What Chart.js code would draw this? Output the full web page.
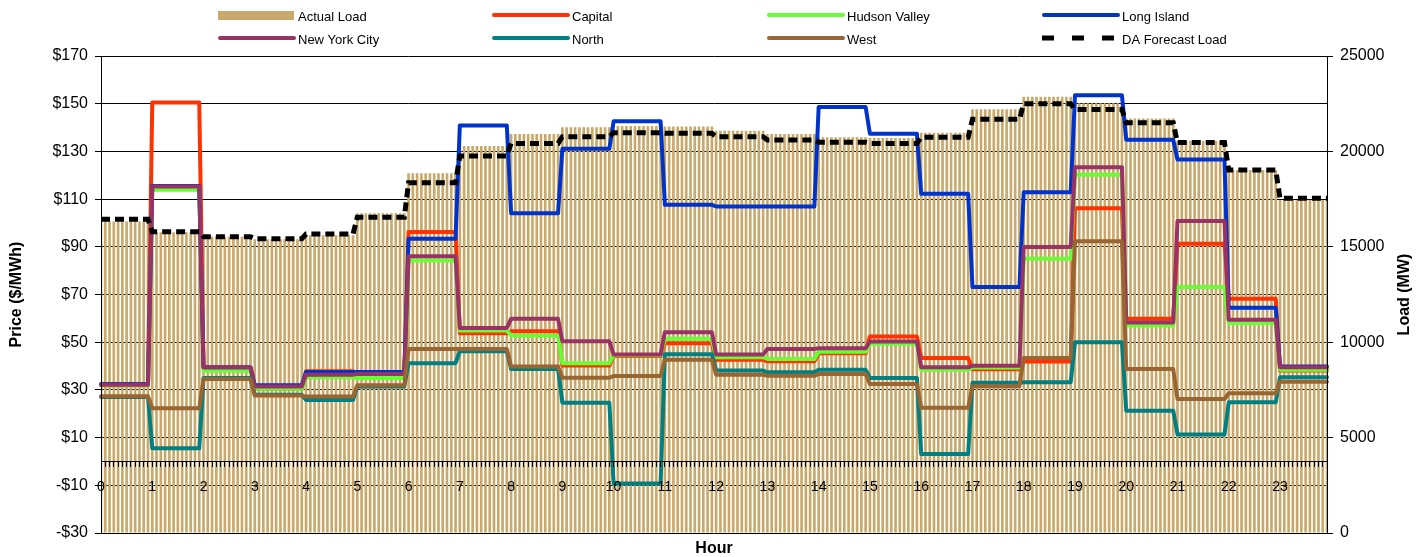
<!DOCTYPE html>
<html>
<head>
<meta charset="utf-8">
<script src="https://cdn.jsdelivr.net/npm/chart.js@4.4.1/dist/chart.umd.min.js"></script>
<style>
  html,body{margin:0;padding:0;background:#fff}
  #wrap{width:1417px;height:557px}
</style>
</head>
<body>
<div id="wrap"><canvas id="chart" width="1417" height="557"></canvas></div>
<script>
// ── DATA ──
// hourly zonal prices ($/MWh) and loads (MW)
const hours = [0,1,2,3,4,5,6,7,8,9,10,11,12,13,14,15,16,17,18,19,20,21,22,23];
const steps = ['00','05','10','15','20','25','30','35','40','45','50','55'];   // 5-min intervals

const actualLoad = [16320,15760,15530,15400,15600,16755,18850,20280,20910,21260,21330,21300,21085,20910,20740,20700,20980,22205,22870,22520,21730,20545,19025,17450];
const daForecast = [16440,15790,15530,15425,15670,16546,18360,19760,20420,20770,20980,20950,20770,20600,20480,20420,20740,21680,22500,22200,21500,20460,19025,17540];
const capital    = [32,150.5,39,30.5,37.8,35,96.2,53.8,54.6,40.2,44.2,49.6,42.6,42,45.4,52.4,43.4,38.7,41.9,106.2,59.8,91.3,68.2,38.1];
const hudson     = [32,113.9,38,30.5,35.3,35,84.3,54.9,52.8,41.2,44.5,51.4,43.7,43,46,49.4,38.4,39.4,85,120.2,57,73.1,58,38.5];
const longIsland = [32.5,115.5,39.5,32,37.5,37.5,93.4,140.9,104.1,131.1,142.6,107.6,106.9,106.9,148.6,137.4,112.2,73.1,112.9,153.5,134.9,126.6,64.4,39.8];
const nyc        = [32.2,115.3,39.5,31.4,36.4,36.7,86,56,59.8,50.4,44.8,54.2,44.8,47.2,47.5,50.3,39.5,40.1,89.9,123.4,58.3,100.8,59.4,39.5];
const north      = [27,5.5,35,28,25.8,31.4,41.2,46.2,38.8,24.6,-9.2,44.9,38.1,37.4,38.4,35,3.1,33,33.2,50,21.3,11.3,24.8,35.3];
const west       = [27.3,22.3,34.6,27.6,27.2,32,47.2,47.2,39.8,35.1,35.8,42.6,36.4,35.9,36.7,32.5,22.5,31.5,43.4,92.3,38.8,26.2,28.6,33.4];

// ── HELPERS ──
const FONT = 'Arial, "Liberation Sans", sans-serif';
Chart.defaults.font.family = FONT;
Chart.defaults.color = '#000';

const labels = hours.flatMap(h => steps.map(m => h+':'+m));
const perStep = arr => arr.flatMap(v => steps.map(() => v));   // hourly value held over its 12 intervals

const lineDs = (label,data,color,order) => ({
  type:'line', label, data:perStep(data), borderColor:color, backgroundColor:color,
  borderWidth:4, pointRadius:0, tension:0, borderJoinStyle:'round', borderCapStyle:'round',
  xAxisID:'x', yAxisID:'y', order
});

// legend in a fixed 4-column grid, like the original
const legendGrid = {
  id:'legendGrid',
  afterDraw(chart) {
    const ctx=chart.ctx, cols=[218,492,767,1042], rows=[15,38];
    chart.data.datasets.forEach((ds,i) => {
      const x=cols[i%4], y=rows[Math.floor(i/4)];
      ctx.save();
      if (ds.type==='bar') { ctx.fillStyle=ds.backgroundColor; ctx.fillRect(x,y-4,76,9); }
      else {
        ctx.beginPath(); ctx.strokeStyle=ds.borderColor;
        if (ds.borderDash) { ctx.setLineDash([12,18]); ctx.lineWidth=5; ctx.lineCap='butt'; ctx.moveTo(x,y); ctx.lineTo(x+78,y); }
        else { ctx.lineWidth=4; ctx.lineCap='round'; ctx.moveTo(x+2,y); ctx.lineTo(x+76,y); }
        ctx.stroke();
      }
      ctx.setLineDash([]);
      ctx.fillStyle='#000'; ctx.font='13px '+FONT; ctx.textBaseline='middle'; ctx.textAlign='left';
      ctx.fillText(ds.label, x+80, y+2);
      ctx.restore();
    });
  }
};

// right title reads bottom-to-top, Chart.js would rotate it the other way
const rightTitle = {
  id:'rightTitle',
  afterDraw(chart) {
    const {ctx,chartArea:a} = chart, s = chart.scales.y1;
    ctx.save();
    ctx.translate(s.right-12,(a.top+a.bottom)/2); ctx.rotate(-Math.PI/2);
    ctx.font='bold 16px '+FONT; ctx.fillStyle='#000'; ctx.textAlign='center'; ctx.textBaseline='middle';
    ctx.fillText('Load (MW)',0,0);
    ctx.restore();
  }
};

// ── CHART ──
new Chart(document.getElementById('chart'), {
  type:'bar',
  data:{
    labels,
    datasets:[
      {type:'bar', label:'Actual Load', data:perStep(actualLoad), backgroundColor:'#C8A96B',
       barPercentage:0.62, categoryPercentage:1, xAxisID:'x', yAxisID:'y1', order:8},
      lineDs('Capital', capital, '#FF3300', 7),
      lineDs('Hudson Valley', hudson, '#66FF33', 6),
      lineDs('Long Island', longIsland, '#0033CC', 5),
      lineDs('New York City', nyc, '#993366', 4),
      lineDs('North', north, '#008080', 3),
      lineDs('West', west, '#996633', 2),
      {type:'line', label:'DA Forecast Load', data:perStep(daForecast), borderColor:'#000', backgroundColor:'#000',
       borderWidth:5, borderDash:[9,5], pointRadius:0, tension:0, xAxisID:'x', yAxisID:'y1', order:1}
    ]
  },
  options:{
    responsive:false, animation:false, devicePixelRatio:1,
    layout:{padding:{top:56,left:0,right:0,bottom:0}},
    plugins:{legend:{display:false}, tooltip:{enabled:false}},
    scales:{
      x:{
        type:'category', position:{y:0}, offset:false,
        grid:{offset:false, drawOnChartArea:false, tickLength:5, color:'#000', z:1},
        border:{display:true, color:'#000', z:1},
        ticks:{autoSkip:false, maxRotation:0, minRotation:0, padding:12, z:1, font:{size:14},
               callback:(v,i) => i%12===0 ? String(hours[i/12]) : ''}
      },
      xTitle:{
        type:'category', position:'bottom', offset:false,
        grid:{display:false}, border:{display:false}, ticks:{display:false},
        title:{display:true, text:'Hour', padding:0, font:{size:16, weight:'bold', lineHeight:1}},
        afterFit:s => { s.height=24; }
      },
      y:{
        position:'left', min:-30, max:170,
        ticks:{stepSize:20, padding:7, font:{size:16}, callback:v => v<0 ? '-$'+(-v) : '$'+v},
        grid:{color:'#000', tickLength:6},
        border:{color:'#000', z:1},
        title:{display:true, text:'Price ($/MWh)', padding:{top:7,bottom:0}, font:{size:16, weight:'bold'}},
        afterFit:s => { s.width=101; }
      },
      y1:{
        position:'right', min:0, max:25000,
        ticks:{stepSize:5000, padding:7, font:{size:16}, callback:v => String(v)},
        grid:{drawOnChartArea:false, color:'#000', tickLength:6},
        border:{color:'#000', z:1},
        afterFit:s => { s.width=90; }
      }
    }
  },
  plugins:[legendGrid, rightTitle]
});
</script>
</body>
</html>
